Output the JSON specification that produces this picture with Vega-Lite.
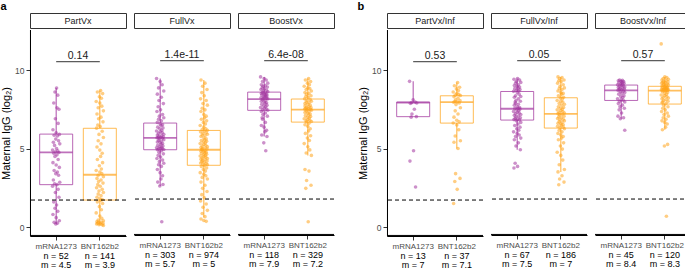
{
"$schema":"https://vega.github.io/schema/vega-lite/v6.json",
"padding":{"left":0,"top":0,"right":0,"bottom":0},
"spacing":22,
"config":{"font":"Liberation Sans","view":{"stroke":null},
"axis":{"grid":false,"domain":true,"domainColor":"black","domainWidth":1,"ticks":true,"tickColor":"#333","tickSize":4,"labelPadding":2,"labelColor":"#4d4d4d","labelFontSize":8,"zindex":2},
"axisX":{"labelAngle":0},
"axisY":{"labelFontSize":8.5,"titleFontSize":11,"titleFontWeight":"normal","titleColor":"#000","titlePadding":3},
"title":{"fontSize":11,"fontWeight":"bold","anchor":"start","frame":"bounds","offset":1,"color":"#000"}},
"datasets":{
"stats":[
{"p":"a1","g":"mRNA1273","lo":0.2,"q1":2.7,"md":4.76,"q3":5.92,"hi":8.85,"n":"n = 52","m":"m = 4.5","pv":"0.14"},
{"p":"a1","g":"BNT162b2","lo":0.15,"q1":1.72,"md":3.33,"q3":6.29,"hi":8.7,"n":"n = 141","m":"m = 3.9"},
{"p":"a2","g":"mRNA1273","lo":2.55,"q1":4.86,"md":5.62,"q3":6.56,"hi":9.4,"n":"n = 303","m":"m = 5.7","pv":"1.4e-11"},
{"p":"a2","g":"BNT162b2","lo":0.55,"q1":3.87,"md":4.86,"q3":6.09,"hi":9.3,"n":"n = 974","m":"m = 5"},
{"p":"a3","g":"mRNA1273","lo":5.7,"q1":7.37,"md":8.09,"q3":8.53,"hi":9.5,"n":"n = 118","m":"m = 7.9","pv":"6.4e-08"},
{"p":"a3","g":"BNT162b2","lo":4.5,"q1":6.62,"md":7.41,"q3":8.09,"hi":9.4,"n":"n = 329","m":"m = 7.2"},
{"p":"b1","g":"mRNA1273","lo":7.03,"q1":7.03,"md":7.92,"q3":7.96,"hi":9.28,"n":"n = 13","m":"m = 7","pv":"0.53"},
{"p":"b1","g":"BNT162b2","lo":5.0,"q1":6.62,"md":7.96,"q3":8.36,"hi":9.2,"n":"n = 37","m":"m = 7.1"},
{"p":"b2","g":"mRNA1273","lo":4.86,"q1":6.75,"md":7.47,"q3":8.57,"hi":9.4,"n":"n = 67","m":"m = 7.5","pv":"0.05"},
{"p":"b2","g":"BNT162b2","lo":3.45,"q1":6.24,"md":7.15,"q3":8.17,"hi":9.5,"n":"n = 186","m":"m = 7"},
{"p":"b3","g":"mRNA1273","lo":6.83,"q1":8.0,"md":8.64,"q3":8.98,"hi":9.3,"n":"n = 45","m":"m = 8.4","pv":"0.57"},
{"p":"b3","g":"BNT162b2","lo":6.13,"q1":7.77,"md":8.62,"q3":8.9,"hi":9.5,"n":"n = 120","m":"m = 8.3"}
],
"a1m":[{"v":8.85,"j":1},{"v":8.6,"j":-3},{"v":8.4,"j":4},{"v":7.9,"j":-6},{"v":7.6,"j":2},{"v":7.5,"j":7},{"v":6.9,"j":-2},{"v":6.6,"j":5},{"v":6.2,"j":-8},{"v":6.0,"j":0},{"v":5.9,"j":8},{"v":5.85,"j":-5},{"v":5.8,"j":3},{"v":5.6,"j":-1},{"v":5.5,"j":6},{"v":5.4,"j":-7},{"v":5.3,"j":9},{"v":5.2,"j":-4},{"v":5.0,"j":1},{"v":4.9,"j":-9},{"v":4.85,"j":4},{"v":4.8,"j":-2},{"v":4.75,"j":7},{"v":4.7,"j":-6},{"v":4.6,"j":2},{"v":4.5,"j":-3},{"v":4.3,"j":5},{"v":4.1,"j":-8},{"v":3.95,"j":0},{"v":3.8,"j":8},{"v":3.6,"j":-5},{"v":3.5,"j":3},{"v":3.4,"j":-1},{"v":3.3,"j":6},{"v":3.0,"j":-7},{"v":2.85,"j":9},{"v":2.75,"j":-4},{"v":2.7,"j":2},{"v":2.6,"j":-9},{"v":2.4,"j":5},{"v":2.2,"j":-2},{"v":1.9,"j":7},{"v":1.6,"j":-6},{"v":1.4,"j":1},{"v":1.2,"j":-3},{"v":1.0,"j":4},{"v":0.8,"j":-8},{"v":0.6,"j":0},{"v":0.4,"j":8},{"v":0.3,"j":-5},{"v":0.25,"j":3},{"v":0.2,"j":-1}],
"a1b":[{"v":8.7,"j":2},{"v":8.6,"j":-6},{"v":8.5,"j":7},{"v":8.3,"j":-1},{"v":8.2,"j":4},{"v":8.0,"j":-9},{"v":7.9,"j":0},{"v":7.7,"j":5},{"v":7.6,"j":-4},{"v":7.4,"j":9},{"v":7.2,"j":-7},{"v":7.0,"j":3},{"v":6.9,"j":-3},{"v":6.7,"j":8},{"v":6.5,"j":-5},{"v":6.4,"j":1},{"v":6.3,"j":-8},{"v":6.1,"j":6},{"v":5.9,"j":-2},{"v":5.7,"j":9},{"v":5.5,"j":-4},{"v":5.3,"j":3},{"v":5.1,"j":-7},{"v":4.9,"j":0},{"v":4.7,"j":6},{"v":4.5,"j":2},{"v":4.3,"j":-6},{"v":4.1,"j":7},{"v":3.9,"j":-1},{"v":3.7,"j":4},{"v":3.6,"j":-9},{"v":3.5,"j":0},{"v":3.4,"j":5},{"v":3.3,"j":-4},{"v":3.2,"j":9},{"v":3.1,"j":-7},{"v":3.0,"j":3},{"v":2.9,"j":-3},{"v":2.8,"j":8},{"v":2.7,"j":-5},{"v":2.6,"j":1},{"v":2.5,"j":-8},{"v":2.4,"j":6},{"v":2.3,"j":-2},{"v":2.2,"j":9},{"v":2.1,"j":-4},{"v":2.0,"j":3},{"v":1.9,"j":-7},{"v":1.8,"j":0},{"v":1.75,"j":6},{"v":1.7,"j":2},{"v":1.6,"j":-6},{"v":1.5,"j":7},{"v":1.3,"j":-1},{"v":1.1,"j":4},{"v":0.9,"j":-9},{"v":0.7,"j":0},{"v":0.55,"j":5},{"v":0.45,"j":-4},{"v":0.4,"j":9},{"v":0.35,"j":-7},{"v":0.3,"j":3},{"v":0.3,"j":-3},{"v":0.25,"j":8},{"v":0.25,"j":-5},{"v":0.2,"j":1},{"v":0.2,"j":-8},{"v":0.15,"j":6},{"v":0.15,"j":-2},{"v":0.1,"j":9}],
"a2m":[{"v":9.4,"j":-9},{"v":9.2,"j":0},{"v":9.0,"j":5},{"v":8.8,"j":-4},{"v":8.6,"j":9},{"v":8.4,"j":-7},{"v":8.2,"j":3},{"v":8.0,"j":-3},{"v":7.8,"j":8},{"v":7.6,"j":-5},{"v":7.4,"j":1},{"v":7.3,"j":-8},{"v":7.1,"j":6},{"v":7.0,"j":-2},{"v":6.9,"j":9},{"v":6.8,"j":-4},{"v":6.7,"j":3},{"v":6.6,"j":-7},{"v":6.5,"j":0},{"v":6.45,"j":6},{"v":6.4,"j":2},{"v":6.3,"j":-6},{"v":6.25,"j":7},{"v":6.2,"j":-1},{"v":6.1,"j":4},{"v":6.05,"j":-9},{"v":6.0,"j":0},{"v":5.95,"j":5},{"v":5.9,"j":-4},{"v":5.85,"j":9},{"v":5.8,"j":-7},{"v":5.75,"j":3},{"v":5.7,"j":-3},{"v":5.68,"j":8},{"v":5.66,"j":-5},{"v":5.64,"j":1},{"v":5.62,"j":-8},{"v":5.6,"j":6},{"v":5.55,"j":-2},{"v":5.5,"j":9},{"v":5.45,"j":-4},{"v":5.4,"j":3},{"v":5.35,"j":-7},{"v":5.3,"j":0},{"v":5.25,"j":6},{"v":5.2,"j":2},{"v":5.15,"j":-6},{"v":5.1,"j":7},{"v":5.05,"j":-1},{"v":5.0,"j":4},{"v":4.98,"j":-9},{"v":4.95,"j":0},{"v":4.92,"j":5},{"v":4.9,"j":-4},{"v":4.88,"j":9},{"v":4.86,"j":-7},{"v":4.8,"j":3},{"v":4.7,"j":-3},{"v":4.6,"j":8},{"v":4.5,"j":-5},{"v":4.4,"j":1},{"v":4.3,"j":-8},{"v":4.2,"j":6},{"v":4.1,"j":-2},{"v":4.0,"j":9},{"v":3.9,"j":-4},{"v":3.8,"j":3},{"v":3.6,"j":-7},{"v":3.4,"j":0},{"v":3.2,"j":6},{"v":3.0,"j":2},{"v":2.8,"j":-6},{"v":2.65,"j":7},{"v":2.55,"j":-1},{"v":0.27,"j":4}],
"a2b":[{"v":9.3,"j":-7},{"v":9.1,"j":3},{"v":8.9,"j":-3},{"v":8.7,"j":8},{"v":8.5,"j":-5},{"v":8.3,"j":1},{"v":8.1,"j":-8},{"v":8.0,"j":6},{"v":7.8,"j":-2},{"v":7.7,"j":9},{"v":7.5,"j":-4},{"v":7.4,"j":3},{"v":7.3,"j":-7},{"v":7.1,"j":0},{"v":7.0,"j":6},{"v":6.9,"j":2},{"v":6.8,"j":-6},{"v":6.7,"j":7},{"v":6.6,"j":-1},{"v":6.5,"j":4},{"v":6.4,"j":-9},{"v":6.3,"j":0},{"v":6.2,"j":5},{"v":6.15,"j":-4},{"v":6.1,"j":9},{"v":6.05,"j":1},{"v":6.0,"j":-8},{"v":5.95,"j":6},{"v":5.9,"j":-2},{"v":5.85,"j":9},{"v":5.8,"j":-4},{"v":5.75,"j":3},{"v":5.7,"j":-7},{"v":5.6,"j":0},{"v":5.55,"j":6},{"v":5.5,"j":2},{"v":5.45,"j":-6},{"v":5.4,"j":7},{"v":5.35,"j":-1},{"v":5.3,"j":4},{"v":5.25,"j":-9},{"v":5.2,"j":0},{"v":5.15,"j":5},{"v":5.1,"j":-4},{"v":5.05,"j":9},{"v":5.0,"j":-7},{"v":4.97,"j":3},{"v":4.94,"j":-3},{"v":4.9,"j":8},{"v":4.87,"j":-5},{"v":4.84,"j":-4},{"v":4.8,"j":3},{"v":4.77,"j":-7},{"v":4.74,"j":0},{"v":4.7,"j":6},{"v":4.66,"j":2},{"v":4.62,"j":-6},{"v":4.58,"j":7},{"v":4.54,"j":-1},{"v":4.5,"j":4},{"v":4.46,"j":-9},{"v":4.42,"j":0},{"v":4.38,"j":5},{"v":4.34,"j":-4},{"v":4.3,"j":9},{"v":4.26,"j":-7},{"v":4.22,"j":3},{"v":4.18,"j":-3},{"v":4.14,"j":8},{"v":4.1,"j":-5},{"v":4.06,"j":1},{"v":4.02,"j":-8},{"v":3.98,"j":6},{"v":3.94,"j":-2},{"v":3.9,"j":9},{"v":3.85,"j":2},{"v":3.8,"j":-6},{"v":3.7,"j":7},{"v":3.6,"j":-1},{"v":3.5,"j":4},{"v":3.4,"j":-9},{"v":3.3,"j":0},{"v":3.2,"j":5},{"v":3.1,"j":-4},{"v":3.0,"j":9},{"v":2.8,"j":-7},{"v":2.6,"j":3},{"v":2.4,"j":-3},{"v":2.2,"j":8},{"v":2.0,"j":-5},{"v":1.8,"j":1},{"v":1.6,"j":-8},{"v":1.4,"j":6},{"v":1.2,"j":-2},{"v":1.0,"j":9},{"v":0.8,"j":-4},{"v":0.6,"j":3},{"v":0.45,"j":-7},{"v":0.35,"j":0},{"v":0.3,"j":6}],
"a3m":[{"v":9.5,"j":-9},{"v":9.4,"j":0},{"v":9.3,"j":5},{"v":9.2,"j":-4},{"v":9.1,"j":9},{"v":9.0,"j":-7},{"v":8.95,"j":3},{"v":8.9,"j":-3},{"v":8.85,"j":8},{"v":8.8,"j":-5},{"v":8.75,"j":1},{"v":8.7,"j":-8},{"v":8.65,"j":6},{"v":8.6,"j":-2},{"v":8.55,"j":9},{"v":8.5,"j":-4},{"v":8.47,"j":3},{"v":8.45,"j":-7},{"v":8.42,"j":0},{"v":8.4,"j":6},{"v":8.37,"j":2},{"v":8.35,"j":-6},{"v":8.3,"j":7},{"v":8.27,"j":-1},{"v":8.25,"j":4},{"v":8.2,"j":1},{"v":8.17,"j":-8},{"v":8.15,"j":6},{"v":8.12,"j":-2},{"v":8.1,"j":9},{"v":8.05,"j":-4},{"v":8.0,"j":3},{"v":7.95,"j":-7},{"v":7.9,"j":0},{"v":7.85,"j":6},{"v":7.8,"j":2},{"v":7.75,"j":-6},{"v":7.7,"j":7},{"v":7.65,"j":-1},{"v":7.6,"j":4},{"v":7.55,"j":-9},{"v":7.5,"j":0},{"v":7.45,"j":5},{"v":7.4,"j":-4},{"v":7.38,"j":9},{"v":7.3,"j":-7},{"v":7.2,"j":3},{"v":7.1,"j":-3},{"v":7.0,"j":8},{"v":6.9,"j":-5},{"v":6.8,"j":-4},{"v":6.6,"j":3},{"v":6.4,"j":-7},{"v":6.3,"j":0},{"v":6.1,"j":6},{"v":6.0,"j":2},{"v":5.8,"j":-6},{"v":5.7,"j":7},{"v":5.3,"j":-1},{"v":4.8,"j":4}],
"a3b":[{"v":9.4,"j":2},{"v":9.3,"j":-6},{"v":9.2,"j":7},{"v":9.1,"j":-1},{"v":9.0,"j":4},{"v":8.9,"j":-9},{"v":8.8,"j":0},{"v":8.75,"j":5},{"v":8.7,"j":-4},{"v":8.6,"j":9},{"v":8.5,"j":-7},{"v":8.45,"j":3},{"v":8.4,"j":-3},{"v":8.3,"j":8},{"v":8.25,"j":-5},{"v":8.2,"j":1},{"v":8.1,"j":-8},{"v":8.05,"j":6},{"v":8.0,"j":-2},{"v":7.95,"j":9},{"v":7.9,"j":-4},{"v":7.85,"j":3},{"v":7.8,"j":-7},{"v":7.75,"j":0},{"v":7.7,"j":6},{"v":7.65,"j":-7},{"v":7.6,"j":3},{"v":7.57,"j":-3},{"v":7.54,"j":8},{"v":7.5,"j":-5},{"v":7.47,"j":1},{"v":7.45,"j":-8},{"v":7.43,"j":6},{"v":7.41,"j":-2},{"v":7.38,"j":9},{"v":7.33,"j":-4},{"v":7.28,"j":3},{"v":7.23,"j":-7},{"v":7.18,"j":0},{"v":7.13,"j":6},{"v":7.08,"j":2},{"v":7.03,"j":-6},{"v":6.98,"j":7},{"v":6.93,"j":-1},{"v":6.88,"j":4},{"v":6.83,"j":-9},{"v":6.78,"j":0},{"v":6.74,"j":5},{"v":6.7,"j":-4},{"v":6.66,"j":9},{"v":6.63,"j":-4},{"v":6.55,"j":3},{"v":6.45,"j":-7},{"v":6.35,"j":0},{"v":6.2,"j":6},{"v":6.05,"j":2},{"v":5.9,"j":-6},{"v":5.75,"j":7},{"v":5.6,"j":-1},{"v":5.45,"j":4},{"v":5.25,"j":-9},{"v":5.05,"j":0},{"v":4.85,"j":5},{"v":4.65,"j":-4},{"v":4.5,"j":9},{"v":3.6,"j":-7},{"v":3.5,"j":3},{"v":2.9,"j":-3},{"v":2.6,"j":8},{"v":2.4,"j":-5},{"v":0.27,"j":1}],
"b1m":[{"v":9.28,"j":-9},{"v":8.1,"j":0},{"v":7.96,"j":5},{"v":7.92,"j":-4},{"v":7.9,"j":9},{"v":7.88,"j":-7},{"v":7.5,"j":3},{"v":7.2,"j":-3},{"v":7.03,"j":8},{"v":7.0,"j":-5},{"v":4.86,"j":1},{"v":4.2,"j":-8},{"v":2.55,"j":6}],
"b1b":[{"v":9.2,"j":2},{"v":9.0,"j":-6},{"v":8.9,"j":7},{"v":8.8,"j":-1},{"v":8.7,"j":4},{"v":8.6,"j":-9},{"v":8.5,"j":0},{"v":8.45,"j":5},{"v":8.4,"j":-4},{"v":8.38,"j":9},{"v":8.3,"j":-7},{"v":8.2,"j":3},{"v":8.1,"j":-3},{"v":8.05,"j":8},{"v":8.0,"j":-5},{"v":7.97,"j":1},{"v":7.95,"j":-8},{"v":7.9,"j":6},{"v":7.8,"j":-2},{"v":7.6,"j":9},{"v":7.4,"j":-4},{"v":7.2,"j":3},{"v":7.0,"j":-7},{"v":6.8,"j":0},{"v":6.7,"j":6},{"v":6.63,"j":-9},{"v":6.5,"j":0},{"v":6.2,"j":5},{"v":5.8,"j":-4},{"v":5.5,"j":9},{"v":5.4,"j":-7},{"v":5.0,"j":3},{"v":3.4,"j":-3},{"v":3.1,"j":8},{"v":2.9,"j":-5},{"v":2.4,"j":1},{"v":1.5,"j":-8}],
"b2m":[{"v":9.4,"j":1},{"v":9.35,"j":-8},{"v":9.3,"j":6},{"v":9.2,"j":-2},{"v":9.15,"j":9},{"v":9.1,"j":-4},{"v":9.0,"j":3},{"v":8.95,"j":-7},{"v":8.9,"j":0},{"v":8.85,"j":6},{"v":8.8,"j":2},{"v":8.75,"j":-6},{"v":8.7,"j":7},{"v":8.65,"j":-1},{"v":8.6,"j":4},{"v":8.58,"j":-9},{"v":8.5,"j":0},{"v":8.4,"j":5},{"v":8.3,"j":-4},{"v":8.25,"j":9},{"v":8.2,"j":-7},{"v":8.1,"j":3},{"v":8.0,"j":-3},{"v":7.95,"j":8},{"v":7.9,"j":-5},{"v":7.8,"j":-4},{"v":7.75,"j":3},{"v":7.7,"j":-7},{"v":7.6,"j":0},{"v":7.55,"j":6},{"v":7.5,"j":2},{"v":7.48,"j":-6},{"v":7.45,"j":7},{"v":7.4,"j":-1},{"v":7.35,"j":4},{"v":7.3,"j":-9},{"v":7.25,"j":0},{"v":7.2,"j":5},{"v":7.15,"j":-4},{"v":7.1,"j":9},{"v":7.05,"j":-7},{"v":7.0,"j":3},{"v":6.95,"j":-3},{"v":6.9,"j":8},{"v":6.85,"j":-5},{"v":6.8,"j":1},{"v":6.78,"j":-8},{"v":6.76,"j":6},{"v":6.7,"j":-2},{"v":6.6,"j":9},{"v":6.5,"j":2},{"v":6.4,"j":-6},{"v":6.3,"j":7},{"v":6.2,"j":-1},{"v":6.1,"j":4},{"v":6.0,"j":-9},{"v":5.9,"j":0},{"v":5.8,"j":5},{"v":5.7,"j":-4},{"v":5.6,"j":9},{"v":5.5,"j":-7},{"v":5.3,"j":3},{"v":5.1,"j":-3},{"v":4.86,"j":8},{"v":4.0,"j":-5},{"v":3.8,"j":1},{"v":3.7,"j":-8}],
"b2b":[{"v":9.5,"j":-7},{"v":9.45,"j":3},{"v":9.4,"j":-3},{"v":9.3,"j":8},{"v":9.25,"j":-5},{"v":9.2,"j":1},{"v":9.1,"j":-8},{"v":9.0,"j":6},{"v":8.9,"j":-2},{"v":8.8,"j":9},{"v":8.75,"j":-4},{"v":8.7,"j":3},{"v":8.6,"j":-7},{"v":8.5,"j":0},{"v":8.45,"j":6},{"v":8.4,"j":2},{"v":8.3,"j":-6},{"v":8.2,"j":7},{"v":8.15,"j":-1},{"v":8.1,"j":4},{"v":8.0,"j":-9},{"v":7.95,"j":0},{"v":7.9,"j":5},{"v":7.8,"j":-4},{"v":7.75,"j":9},{"v":7.7,"j":2},{"v":7.6,"j":-6},{"v":7.55,"j":7},{"v":7.5,"j":-1},{"v":7.45,"j":4},{"v":7.4,"j":-9},{"v":7.35,"j":0},{"v":7.3,"j":5},{"v":7.25,"j":-4},{"v":7.2,"j":9},{"v":7.16,"j":-7},{"v":7.12,"j":3},{"v":7.08,"j":-3},{"v":7.0,"j":8},{"v":6.95,"j":-5},{"v":6.9,"j":1},{"v":6.85,"j":-8},{"v":6.8,"j":6},{"v":6.75,"j":-2},{"v":6.7,"j":9},{"v":6.65,"j":-4},{"v":6.6,"j":3},{"v":6.55,"j":-7},{"v":6.5,"j":0},{"v":6.45,"j":6},{"v":6.4,"j":1},{"v":6.35,"j":-8},{"v":6.3,"j":6},{"v":6.25,"j":-2},{"v":6.2,"j":9},{"v":6.1,"j":-4},{"v":6.0,"j":3},{"v":5.9,"j":-7},{"v":5.8,"j":0},{"v":5.7,"j":6},{"v":5.6,"j":2},{"v":5.5,"j":-6},{"v":5.3,"j":7},{"v":5.1,"j":-1},{"v":4.9,"j":4},{"v":4.7,"j":-9},{"v":4.5,"j":0},{"v":4.2,"j":5},{"v":3.9,"j":-4},{"v":3.6,"j":9},{"v":3.45,"j":-7},{"v":3.2,"j":3},{"v":3.0,"j":-3},{"v":2.8,"j":8},{"v":2.63,"j":-5}],
"b3m":[{"v":9.3,"j":-4},{"v":9.28,"j":3},{"v":9.25,"j":-7},{"v":9.22,"j":0},{"v":9.2,"j":6},{"v":9.15,"j":2},{"v":9.12,"j":-6},{"v":9.1,"j":7},{"v":9.05,"j":-1},{"v":9.02,"j":4},{"v":9.0,"j":-9},{"v":8.95,"j":0},{"v":8.92,"j":5},{"v":8.9,"j":-4},{"v":8.85,"j":9},{"v":8.82,"j":-7},{"v":8.8,"j":3},{"v":8.75,"j":-3},{"v":8.72,"j":8},{"v":8.7,"j":-5},{"v":8.68,"j":1},{"v":8.65,"j":-8},{"v":8.6,"j":6},{"v":8.55,"j":-2},{"v":8.5,"j":9},{"v":8.45,"j":2},{"v":8.4,"j":-6},{"v":8.3,"j":7},{"v":8.25,"j":-1},{"v":8.2,"j":4},{"v":8.1,"j":-9},{"v":8.05,"j":0},{"v":8.02,"j":5},{"v":7.95,"j":-4},{"v":7.9,"j":9},{"v":7.8,"j":-7},{"v":7.7,"j":3},{"v":7.6,"j":-3},{"v":7.5,"j":8},{"v":7.4,"j":-5},{"v":7.2,"j":1},{"v":7.0,"j":-8},{"v":6.9,"j":6},{"v":6.83,"j":-2},{"v":6.1,"j":9}],
"b3b":[{"v":11.6,"j":-9},{"v":9.5,"j":0},{"v":9.45,"j":5},{"v":9.4,"j":-4},{"v":9.35,"j":9},{"v":9.3,"j":-7},{"v":9.25,"j":3},{"v":9.2,"j":-3},{"v":9.18,"j":8},{"v":9.15,"j":-5},{"v":9.12,"j":1},{"v":9.1,"j":-8},{"v":9.05,"j":6},{"v":9.02,"j":-2},{"v":9.0,"j":9},{"v":8.97,"j":-4},{"v":8.95,"j":3},{"v":8.92,"j":-7},{"v":8.88,"j":0},{"v":8.86,"j":6},{"v":8.84,"j":2},{"v":8.82,"j":-6},{"v":8.8,"j":7},{"v":8.78,"j":-1},{"v":8.76,"j":4},{"v":8.74,"j":1},{"v":8.72,"j":-8},{"v":8.7,"j":6},{"v":8.69,"j":-2},{"v":8.68,"j":9},{"v":8.67,"j":-4},{"v":8.66,"j":3},{"v":8.65,"j":-7},{"v":8.64,"j":0},{"v":8.63,"j":6},{"v":8.6,"j":2},{"v":8.55,"j":-6},{"v":8.5,"j":7},{"v":8.45,"j":-1},{"v":8.4,"j":4},{"v":8.35,"j":-9},{"v":8.3,"j":0},{"v":8.25,"j":5},{"v":8.2,"j":-4},{"v":8.15,"j":9},{"v":8.1,"j":-7},{"v":8.05,"j":3},{"v":8.0,"j":-3},{"v":7.95,"j":8},{"v":7.9,"j":-5},{"v":7.85,"j":-7},{"v":7.8,"j":3},{"v":7.7,"j":-3},{"v":7.6,"j":8},{"v":7.5,"j":-5},{"v":7.4,"j":1},{"v":7.3,"j":-8},{"v":7.2,"j":6},{"v":7.1,"j":-2},{"v":7.0,"j":9},{"v":6.9,"j":-4},{"v":6.8,"j":3},{"v":6.7,"j":-7},{"v":6.6,"j":0},{"v":6.5,"j":6},{"v":6.3,"j":2},{"v":6.13,"j":-6},{"v":5.2,"j":7},{"v":5.1,"j":-1},{"v":0.62,"j":4}]
},
"hconcat":[
{"title":"a","spacing":6,"hconcat":[
{"spacing":0,"vconcat":[
{"width":96,"height":15,"view":{"stroke":"#333","strokeWidth":1},"data":{"values":[{"f":"PartVx"}]},"mark":{"type":"text","fontSize":9,"color":"#1a1a1a"},"encoding":{"text":{"field":"f","type":"nominal"}}},
{"width":96,"height":206,"resolve":{"scale":{"x":"independent"}},"layer":[
{"layer":[
{"data":{"name":"stats"},"transform":[{"filter":"datum.p=='a1'"}],"mark":{"type":"bar","filled":false,"strokeWidth":1,"strokeOpacity":0.75,"size":33},"encoding":{"x":{"field":"g","type":"nominal","scale":{"domain":["mRNA1273","BNT162b2"],"paddingInner":0,"paddingOuter":0.1},"title":null},"y":{"field":"q1","type":"quantitative","scale":{"domain":[-0.57,12.55],"nice":false,"zero":false},"axis":{"values":[0,5,10]},"title":"Maternal IgG (log₂)"},"y2":{"field":"q3"},"color":{"field":"g","type":"nominal","scale":{"domain":["mRNA1273","BNT162b2"],"range":["#A2359E","#FFA41B"]},"legend":null}}},
{"data":{"name":"stats"},"transform":[{"filter":"datum.p=='a1'"}],"mark":{"type":"rule","strokeWidth":1.1,"strokeOpacity":0.8},"encoding":{"x":{"field":"g","type":"nominal","title":null},"y":{"field":"lo","type":"quantitative","axis":{"values":[0,5,10]},"title":"Maternal IgG (log₂)"},"y2":{"field":"q1"},"color":{"field":"g","type":"nominal","legend":null}}},
{"data":{"name":"stats"},"transform":[{"filter":"datum.p=='a1'"}],"mark":{"type":"rule","strokeWidth":1.1,"strokeOpacity":0.8},"encoding":{"x":{"field":"g","type":"nominal","title":null},"y":{"field":"q3","type":"quantitative","axis":{"values":[0,5,10]},"title":"Maternal IgG (log₂)"},"y2":{"field":"hi"},"color":{"field":"g","type":"nominal","legend":null}}},
{"data":{"name":"a1m"},"mark":{"type":"circle","size":13,"opacity":0.55},"encoding":{"x":{"datum":"mRNA1273","type":"nominal","title":null},"xOffset":{"field":"j","type":"quantitative","scale":{"domain":[-10,10],"range":[17.8,25.8]}},"y":{"field":"v","type":"quantitative","axis":{"values":[0,5,10]},"title":"Maternal IgG (log₂)"},"color":{"datum":"mRNA1273","type":"nominal","legend":null}}},
{"data":{"name":"a1b"},"mark":{"type":"circle","size":13,"opacity":0.55},"encoding":{"x":{"datum":"BNT162b2","type":"nominal","title":null},"xOffset":{"field":"j","type":"quantitative"},"y":{"field":"v","type":"quantitative","axis":{"values":[0,5,10]},"title":"Maternal IgG (log₂)"},"color":{"datum":"BNT162b2","type":"nominal","legend":null}}},
{"data":{"name":"stats"},"transform":[{"filter":"datum.p=='a1'"}],"mark":{"type":"tick","thickness":1.8,"size":33},"encoding":{"x":{"field":"g","type":"nominal","title":null},"y":{"field":"md","type":"quantitative","axis":{"values":[0,5,10]},"title":"Maternal IgG (log₂)"},"color":{"field":"g","type":"nominal","legend":null}}},
{"data":{"name":"stats"},"transform":[{"filter":"datum.p=='a1' && datum.g=='mRNA1273'"}],"mark":{"type":"rule","strokeDash":[4,3],"color":"#000","strokeWidth":1},"encoding":{"y":{"datum":1.72,"type":"quantitative","axis":{"values":[0,5,10]},"title":"Maternal IgG (log₂)"}}},
{"data":{"name":"stats"},"transform":[{"filter":"datum.p=='a1' && datum.g=='mRNA1273'"}],"mark":{"type":"rule","color":"#000","strokeWidth":1},"encoding":{"y":{"datum":-0.535,"type":"quantitative","axis":{"values":[0,5,10]},"title":"Maternal IgG (log₂)"}}},
{"data":{"name":"stats"},"transform":[{"filter":"datum.p=='a1' && datum.g=='mRNA1273'"}],"mark":{"type":"rule","color":"#333","strokeWidth":1},"encoding":{"x":{"datum":"mRNA1273","type":"nominal","title":null},"x2":{"datum":"BNT162b2"},"y":{"datum":10.53,"type":"quantitative","axis":{"values":[0,5,10]},"title":"Maternal IgG (log₂)"}}},
{"data":{"name":"stats"},"transform":[{"filter":"datum.p=='a1' && datum.g=='mRNA1273'"}],"mark":{"type":"text","fontSize":10.5,"color":"#1a1a1a","baseline":"alphabetic"},"encoding":{"y":{"datum":10.7,"type":"quantitative","axis":{"values":[0,5,10]},"title":"Maternal IgG (log₂)"},"text":{"field":"pv"}}},
{"data":{"name":"stats"},"transform":[{"filter":"datum.p=='a1'"}],"mark":{"type":"text","fontSize":9,"color":"#000","baseline":"middle"},"encoding":{"x":{"field":"g","type":"nominal","title":null},"y":{"datum":-1.84,"type":"quantitative","axis":{"values":[0,5,10]},"title":"Maternal IgG (log₂)"},"text":{"field":"n"}}},
{"data":{"name":"stats"},"transform":[{"filter":"datum.p=='a1'"}],"mark":{"type":"text","fontSize":9,"color":"#000","baseline":"middle"},"encoding":{"x":{"field":"g","type":"nominal","title":null},"y":{"datum":-2.42,"type":"quantitative","axis":{"values":[0,5,10]},"title":"Maternal IgG (log₂)"},"text":{"field":"m"}}}
]},
{"data":{"name":"stats"},"transform":[{"filter":"datum.p=='a1' && datum.g=='mRNA1273'"}],"mark":{"type":"rule","color":"#000","strokeWidth":1},"encoding":{"x":{"datum":0.005,"type":"quantitative","scale":{"domain":[0,1],"nice":false,"zero":false},"axis":null},"y":{"datum":-0.57,"type":"quantitative","axis":{"values":[0,5,10]},"title":"Maternal IgG (log₂)"},"y2":{"datum":12.55}}}
]}]},
{"spacing":0,"vconcat":[
{"width":96,"height":15,"view":{"stroke":"#333","strokeWidth":1},"data":{"values":[{"f":"FullVx"}]},"mark":{"type":"text","fontSize":9,"color":"#1a1a1a"},"encoding":{"text":{"field":"f","type":"nominal"}}},
{"width":96,"height":206,"layer":[
{"data":{"name":"stats"},"transform":[{"filter":"datum.p=='a2'"}],"mark":{"type":"bar","filled":false,"strokeWidth":1,"strokeOpacity":0.75,"size":33},"encoding":{"x":{"field":"g","type":"nominal","scale":{"domain":["mRNA1273","BNT162b2"],"paddingInner":0,"paddingOuter":0.1},"title":null},"y":{"field":"q1","type":"quantitative","scale":{"domain":[-0.57,12.55],"nice":false,"zero":false},"axis":null},"y2":{"field":"q3"},"color":{"field":"g","type":"nominal","legend":null}}},
{"data":{"name":"stats"},"transform":[{"filter":"datum.p=='a2'"}],"mark":{"type":"rule","strokeWidth":1.1,"strokeOpacity":0.8},"encoding":{"x":{"field":"g","type":"nominal","title":null},"y":{"field":"lo","type":"quantitative","axis":null},"y2":{"field":"q1"},"color":{"field":"g","type":"nominal","legend":null}}},
{"data":{"name":"stats"},"transform":[{"filter":"datum.p=='a2'"}],"mark":{"type":"rule","strokeWidth":1.1,"strokeOpacity":0.8},"encoding":{"x":{"field":"g","type":"nominal","title":null},"y":{"field":"q3","type":"quantitative","axis":null},"y2":{"field":"hi"},"color":{"field":"g","type":"nominal","legend":null}}},
{"data":{"name":"a2m"},"mark":{"type":"circle","size":13,"opacity":0.55},"encoding":{"x":{"datum":"mRNA1273","type":"nominal","title":null},"xOffset":{"field":"j","type":"quantitative","scale":{"domain":[-10,10],"range":[17.8,25.8]}},"y":{"field":"v","type":"quantitative","axis":null},"color":{"datum":"mRNA1273","type":"nominal","legend":null}}},
{"data":{"name":"a2b"},"mark":{"type":"circle","size":13,"opacity":0.55},"encoding":{"x":{"datum":"BNT162b2","type":"nominal","title":null},"xOffset":{"field":"j","type":"quantitative"},"y":{"field":"v","type":"quantitative","axis":null},"color":{"datum":"BNT162b2","type":"nominal","legend":null}}},
{"data":{"name":"stats"},"transform":[{"filter":"datum.p=='a2'"}],"mark":{"type":"tick","thickness":1.8,"size":33},"encoding":{"x":{"field":"g","type":"nominal","title":null},"y":{"field":"md","type":"quantitative","axis":null},"color":{"field":"g","type":"nominal","legend":null}}},
{"data":{"name":"stats"},"transform":[{"filter":"datum.p=='a2' && datum.g=='mRNA1273'"}],"mark":{"type":"rule","strokeDash":[4,3],"color":"#000","strokeWidth":1},"encoding":{"y":{"datum":1.72,"type":"quantitative","axis":null}}},
{"data":{"name":"stats"},"transform":[{"filter":"datum.p=='a2' && datum.g=='mRNA1273'"}],"mark":{"type":"rule","color":"#000","strokeWidth":1},"encoding":{"y":{"datum":-0.535,"type":"quantitative","axis":null}}},
{"data":{"name":"stats"},"transform":[{"filter":"datum.p=='a2' && datum.g=='mRNA1273'"}],"mark":{"type":"rule","color":"#333","strokeWidth":1},"encoding":{"x":{"datum":"mRNA1273","type":"nominal","title":null},"x2":{"datum":"BNT162b2"},"y":{"datum":10.53,"type":"quantitative","axis":null}}},
{"data":{"name":"stats"},"transform":[{"filter":"datum.p=='a2' && datum.g=='mRNA1273'"}],"mark":{"type":"text","fontSize":10.5,"color":"#1a1a1a","baseline":"alphabetic"},"encoding":{"y":{"datum":10.7,"type":"quantitative","axis":null},"text":{"field":"pv"}}},
{"data":{"name":"stats"},"transform":[{"filter":"datum.p=='a2'"}],"mark":{"type":"text","fontSize":9,"color":"#000","baseline":"middle"},"encoding":{"x":{"field":"g","type":"nominal","title":null},"y":{"datum":-1.84,"type":"quantitative","axis":null},"text":{"field":"n"}}},
{"data":{"name":"stats"},"transform":[{"filter":"datum.p=='a2'"}],"mark":{"type":"text","fontSize":9,"color":"#000","baseline":"middle"},"encoding":{"x":{"field":"g","type":"nominal","title":null},"y":{"datum":-2.42,"type":"quantitative","axis":null},"text":{"field":"m"}}}
]}]},
{"spacing":0,"vconcat":[
{"width":96,"height":15,"view":{"stroke":"#333","strokeWidth":1},"data":{"values":[{"f":"BoostVx"}]},"mark":{"type":"text","fontSize":9,"color":"#1a1a1a"},"encoding":{"text":{"field":"f","type":"nominal"}}},
{"width":96,"height":206,"layer":[
{"data":{"name":"stats"},"transform":[{"filter":"datum.p=='a3'"}],"mark":{"type":"bar","filled":false,"strokeWidth":1,"strokeOpacity":0.75,"size":33},"encoding":{"x":{"field":"g","type":"nominal","scale":{"domain":["mRNA1273","BNT162b2"],"paddingInner":0,"paddingOuter":0.1},"title":null},"y":{"field":"q1","type":"quantitative","scale":{"domain":[-0.57,12.55],"nice":false,"zero":false},"axis":null},"y2":{"field":"q3"},"color":{"field":"g","type":"nominal","legend":null}}},
{"data":{"name":"stats"},"transform":[{"filter":"datum.p=='a3'"}],"mark":{"type":"rule","strokeWidth":1.1,"strokeOpacity":0.8},"encoding":{"x":{"field":"g","type":"nominal","title":null},"y":{"field":"lo","type":"quantitative","axis":null},"y2":{"field":"q1"},"color":{"field":"g","type":"nominal","legend":null}}},
{"data":{"name":"stats"},"transform":[{"filter":"datum.p=='a3'"}],"mark":{"type":"rule","strokeWidth":1.1,"strokeOpacity":0.8},"encoding":{"x":{"field":"g","type":"nominal","title":null},"y":{"field":"q3","type":"quantitative","axis":null},"y2":{"field":"hi"},"color":{"field":"g","type":"nominal","legend":null}}},
{"data":{"name":"a3m"},"mark":{"type":"circle","size":13,"opacity":0.55},"encoding":{"x":{"datum":"mRNA1273","type":"nominal","title":null},"xOffset":{"field":"j","type":"quantitative","scale":{"domain":[-10,10],"range":[17.8,25.8]}},"y":{"field":"v","type":"quantitative","axis":null},"color":{"datum":"mRNA1273","type":"nominal","legend":null}}},
{"data":{"name":"a3b"},"mark":{"type":"circle","size":13,"opacity":0.55},"encoding":{"x":{"datum":"BNT162b2","type":"nominal","title":null},"xOffset":{"field":"j","type":"quantitative"},"y":{"field":"v","type":"quantitative","axis":null},"color":{"datum":"BNT162b2","type":"nominal","legend":null}}},
{"data":{"name":"stats"},"transform":[{"filter":"datum.p=='a3'"}],"mark":{"type":"tick","thickness":1.8,"size":33},"encoding":{"x":{"field":"g","type":"nominal","title":null},"y":{"field":"md","type":"quantitative","axis":null},"color":{"field":"g","type":"nominal","legend":null}}},
{"data":{"name":"stats"},"transform":[{"filter":"datum.p=='a3' && datum.g=='mRNA1273'"}],"mark":{"type":"rule","strokeDash":[4,3],"color":"#000","strokeWidth":1},"encoding":{"y":{"datum":1.72,"type":"quantitative","axis":null}}},
{"data":{"name":"stats"},"transform":[{"filter":"datum.p=='a3' && datum.g=='mRNA1273'"}],"mark":{"type":"rule","color":"#000","strokeWidth":1},"encoding":{"y":{"datum":-0.535,"type":"quantitative","axis":null}}},
{"data":{"name":"stats"},"transform":[{"filter":"datum.p=='a3' && datum.g=='mRNA1273'"}],"mark":{"type":"rule","color":"#333","strokeWidth":1},"encoding":{"x":{"datum":"mRNA1273","type":"nominal","title":null},"x2":{"datum":"BNT162b2"},"y":{"datum":10.53,"type":"quantitative","axis":null}}},
{"data":{"name":"stats"},"transform":[{"filter":"datum.p=='a3' && datum.g=='mRNA1273'"}],"mark":{"type":"text","fontSize":10.5,"color":"#1a1a1a","baseline":"alphabetic"},"encoding":{"y":{"datum":10.7,"type":"quantitative","axis":null},"text":{"field":"pv"}}},
{"data":{"name":"stats"},"transform":[{"filter":"datum.p=='a3'"}],"mark":{"type":"text","fontSize":9,"color":"#000","baseline":"middle"},"encoding":{"x":{"field":"g","type":"nominal","title":null},"y":{"datum":-1.84,"type":"quantitative","axis":null},"text":{"field":"n"}}},
{"data":{"name":"stats"},"transform":[{"filter":"datum.p=='a3'"}],"mark":{"type":"text","fontSize":9,"color":"#000","baseline":"middle"},"encoding":{"x":{"field":"g","type":"nominal","title":null},"y":{"datum":-2.42,"type":"quantitative","axis":null},"text":{"field":"m"}}}
]}]}
]},
{"title":"b","spacing":6,"hconcat":[
{"spacing":0,"vconcat":[
{"width":96,"height":15,"view":{"stroke":"#333","strokeWidth":1},"data":{"values":[{"f":"PartVx/Inf"}]},"mark":{"type":"text","fontSize":9,"color":"#1a1a1a"},"encoding":{"text":{"field":"f","type":"nominal"}}},
{"width":96,"height":206,"resolve":{"scale":{"x":"independent"}},"layer":[
{"layer":[
{"data":{"name":"stats"},"transform":[{"filter":"datum.p=='b1'"}],"mark":{"type":"bar","filled":false,"strokeWidth":1,"strokeOpacity":0.75,"size":33},"encoding":{"x":{"field":"g","type":"nominal","scale":{"domain":["mRNA1273","BNT162b2"],"paddingInner":0,"paddingOuter":0.1},"title":null},"y":{"field":"q1","type":"quantitative","scale":{"domain":[-0.57,12.55],"nice":false,"zero":false},"axis":{"values":[0,5,10]},"title":"Maternal IgG (log₂)"},"y2":{"field":"q3"},"color":{"field":"g","type":"nominal","legend":null}}},
{"data":{"name":"stats"},"transform":[{"filter":"datum.p=='b1'"}],"mark":{"type":"rule","strokeWidth":1.1,"strokeOpacity":0.8},"encoding":{"x":{"field":"g","type":"nominal","title":null},"y":{"field":"lo","type":"quantitative","axis":{"values":[0,5,10]},"title":"Maternal IgG (log₂)"},"y2":{"field":"q1"},"color":{"field":"g","type":"nominal","legend":null}}},
{"data":{"name":"stats"},"transform":[{"filter":"datum.p=='b1'"}],"mark":{"type":"rule","strokeWidth":1.1,"strokeOpacity":0.8},"encoding":{"x":{"field":"g","type":"nominal","title":null},"y":{"field":"q3","type":"quantitative","axis":{"values":[0,5,10]},"title":"Maternal IgG (log₂)"},"y2":{"field":"hi"},"color":{"field":"g","type":"nominal","legend":null}}},
{"data":{"name":"b1m"},"mark":{"type":"circle","size":13,"opacity":0.55},"encoding":{"x":{"datum":"mRNA1273","type":"nominal","title":null},"xOffset":{"field":"j","type":"quantitative","scale":{"domain":[-10,10],"range":[17.8,25.8]}},"y":{"field":"v","type":"quantitative","axis":{"values":[0,5,10]},"title":"Maternal IgG (log₂)"},"color":{"datum":"mRNA1273","type":"nominal","legend":null}}},
{"data":{"name":"b1b"},"mark":{"type":"circle","size":13,"opacity":0.55},"encoding":{"x":{"datum":"BNT162b2","type":"nominal","title":null},"xOffset":{"field":"j","type":"quantitative"},"y":{"field":"v","type":"quantitative","axis":{"values":[0,5,10]},"title":"Maternal IgG (log₂)"},"color":{"datum":"BNT162b2","type":"nominal","legend":null}}},
{"data":{"name":"stats"},"transform":[{"filter":"datum.p=='b1'"}],"mark":{"type":"tick","thickness":1.8,"size":33},"encoding":{"x":{"field":"g","type":"nominal","title":null},"y":{"field":"md","type":"quantitative","axis":{"values":[0,5,10]},"title":"Maternal IgG (log₂)"},"color":{"field":"g","type":"nominal","legend":null}}},
{"data":{"name":"stats"},"transform":[{"filter":"datum.p=='b1' && datum.g=='mRNA1273'"}],"mark":{"type":"rule","strokeDash":[4,3],"color":"#000","strokeWidth":1},"encoding":{"y":{"datum":1.72,"type":"quantitative","axis":{"values":[0,5,10]},"title":"Maternal IgG (log₂)"}}},
{"data":{"name":"stats"},"transform":[{"filter":"datum.p=='b1' && datum.g=='mRNA1273'"}],"mark":{"type":"rule","color":"#000","strokeWidth":1},"encoding":{"y":{"datum":-0.535,"type":"quantitative","axis":{"values":[0,5,10]},"title":"Maternal IgG (log₂)"}}},
{"data":{"name":"stats"},"transform":[{"filter":"datum.p=='b1' && datum.g=='mRNA1273'"}],"mark":{"type":"rule","color":"#333","strokeWidth":1},"encoding":{"x":{"datum":"mRNA1273","type":"nominal","title":null},"x2":{"datum":"BNT162b2"},"y":{"datum":10.53,"type":"quantitative","axis":{"values":[0,5,10]},"title":"Maternal IgG (log₂)"}}},
{"data":{"name":"stats"},"transform":[{"filter":"datum.p=='b1' && datum.g=='mRNA1273'"}],"mark":{"type":"text","fontSize":10.5,"color":"#1a1a1a","baseline":"alphabetic"},"encoding":{"y":{"datum":10.7,"type":"quantitative","axis":{"values":[0,5,10]},"title":"Maternal IgG (log₂)"},"text":{"field":"pv"}}},
{"data":{"name":"stats"},"transform":[{"filter":"datum.p=='b1'"}],"mark":{"type":"text","fontSize":9,"color":"#000","baseline":"middle"},"encoding":{"x":{"field":"g","type":"nominal","title":null},"y":{"datum":-1.84,"type":"quantitative","axis":{"values":[0,5,10]},"title":"Maternal IgG (log₂)"},"text":{"field":"n"}}},
{"data":{"name":"stats"},"transform":[{"filter":"datum.p=='b1'"}],"mark":{"type":"text","fontSize":9,"color":"#000","baseline":"middle"},"encoding":{"x":{"field":"g","type":"nominal","title":null},"y":{"datum":-2.42,"type":"quantitative","axis":{"values":[0,5,10]},"title":"Maternal IgG (log₂)"},"text":{"field":"m"}}}
]},
{"data":{"name":"stats"},"transform":[{"filter":"datum.p=='b1' && datum.g=='mRNA1273'"}],"mark":{"type":"rule","color":"#000","strokeWidth":1},"encoding":{"x":{"datum":0.005,"type":"quantitative","scale":{"domain":[0,1],"nice":false,"zero":false},"axis":null},"y":{"datum":-0.57,"type":"quantitative","axis":{"values":[0,5,10]},"title":"Maternal IgG (log₂)"},"y2":{"datum":12.55}}}
]}]},
{"spacing":0,"vconcat":[
{"width":96,"height":15,"view":{"stroke":"#333","strokeWidth":1},"data":{"values":[{"f":"FullVx/Inf"}]},"mark":{"type":"text","fontSize":9,"color":"#1a1a1a"},"encoding":{"text":{"field":"f","type":"nominal"}}},
{"width":96,"height":206,"layer":[
{"data":{"name":"stats"},"transform":[{"filter":"datum.p=='b2'"}],"mark":{"type":"bar","filled":false,"strokeWidth":1,"strokeOpacity":0.75,"size":33},"encoding":{"x":{"field":"g","type":"nominal","scale":{"domain":["mRNA1273","BNT162b2"],"paddingInner":0,"paddingOuter":0.1},"title":null},"y":{"field":"q1","type":"quantitative","scale":{"domain":[-0.57,12.55],"nice":false,"zero":false},"axis":null},"y2":{"field":"q3"},"color":{"field":"g","type":"nominal","legend":null}}},
{"data":{"name":"stats"},"transform":[{"filter":"datum.p=='b2'"}],"mark":{"type":"rule","strokeWidth":1.1,"strokeOpacity":0.8},"encoding":{"x":{"field":"g","type":"nominal","title":null},"y":{"field":"lo","type":"quantitative","axis":null},"y2":{"field":"q1"},"color":{"field":"g","type":"nominal","legend":null}}},
{"data":{"name":"stats"},"transform":[{"filter":"datum.p=='b2'"}],"mark":{"type":"rule","strokeWidth":1.1,"strokeOpacity":0.8},"encoding":{"x":{"field":"g","type":"nominal","title":null},"y":{"field":"q3","type":"quantitative","axis":null},"y2":{"field":"hi"},"color":{"field":"g","type":"nominal","legend":null}}},
{"data":{"name":"b2m"},"mark":{"type":"circle","size":13,"opacity":0.55},"encoding":{"x":{"datum":"mRNA1273","type":"nominal","title":null},"xOffset":{"field":"j","type":"quantitative","scale":{"domain":[-10,10],"range":[17.8,25.8]}},"y":{"field":"v","type":"quantitative","axis":null},"color":{"datum":"mRNA1273","type":"nominal","legend":null}}},
{"data":{"name":"b2b"},"mark":{"type":"circle","size":13,"opacity":0.55},"encoding":{"x":{"datum":"BNT162b2","type":"nominal","title":null},"xOffset":{"field":"j","type":"quantitative"},"y":{"field":"v","type":"quantitative","axis":null},"color":{"datum":"BNT162b2","type":"nominal","legend":null}}},
{"data":{"name":"stats"},"transform":[{"filter":"datum.p=='b2'"}],"mark":{"type":"tick","thickness":1.8,"size":33},"encoding":{"x":{"field":"g","type":"nominal","title":null},"y":{"field":"md","type":"quantitative","axis":null},"color":{"field":"g","type":"nominal","legend":null}}},
{"data":{"name":"stats"},"transform":[{"filter":"datum.p=='b2' && datum.g=='mRNA1273'"}],"mark":{"type":"rule","strokeDash":[4,3],"color":"#000","strokeWidth":1},"encoding":{"y":{"datum":1.72,"type":"quantitative","axis":null}}},
{"data":{"name":"stats"},"transform":[{"filter":"datum.p=='b2' && datum.g=='mRNA1273'"}],"mark":{"type":"rule","color":"#000","strokeWidth":1},"encoding":{"y":{"datum":-0.535,"type":"quantitative","axis":null}}},
{"data":{"name":"stats"},"transform":[{"filter":"datum.p=='b2' && datum.g=='mRNA1273'"}],"mark":{"type":"rule","color":"#333","strokeWidth":1},"encoding":{"x":{"datum":"mRNA1273","type":"nominal","title":null},"x2":{"datum":"BNT162b2"},"y":{"datum":10.53,"type":"quantitative","axis":null}}},
{"data":{"name":"stats"},"transform":[{"filter":"datum.p=='b2' && datum.g=='mRNA1273'"}],"mark":{"type":"text","fontSize":10.5,"color":"#1a1a1a","baseline":"alphabetic"},"encoding":{"y":{"datum":10.7,"type":"quantitative","axis":null},"text":{"field":"pv"}}},
{"data":{"name":"stats"},"transform":[{"filter":"datum.p=='b2'"}],"mark":{"type":"text","fontSize":9,"color":"#000","baseline":"middle"},"encoding":{"x":{"field":"g","type":"nominal","title":null},"y":{"datum":-1.84,"type":"quantitative","axis":null},"text":{"field":"n"}}},
{"data":{"name":"stats"},"transform":[{"filter":"datum.p=='b2'"}],"mark":{"type":"text","fontSize":9,"color":"#000","baseline":"middle"},"encoding":{"x":{"field":"g","type":"nominal","title":null},"y":{"datum":-2.42,"type":"quantitative","axis":null},"text":{"field":"m"}}}
]}]},
{"spacing":0,"vconcat":[
{"width":96,"height":15,"view":{"stroke":"#333","strokeWidth":1},"data":{"values":[{"f":"BoostVx/Inf"}]},"mark":{"type":"text","fontSize":9,"color":"#1a1a1a"},"encoding":{"text":{"field":"f","type":"nominal"}}},
{"width":96,"height":206,"layer":[
{"data":{"name":"stats"},"transform":[{"filter":"datum.p=='b3'"}],"mark":{"type":"bar","filled":false,"strokeWidth":1,"strokeOpacity":0.75,"size":33},"encoding":{"x":{"field":"g","type":"nominal","scale":{"domain":["mRNA1273","BNT162b2"],"paddingInner":0,"paddingOuter":0.1},"title":null},"y":{"field":"q1","type":"quantitative","scale":{"domain":[-0.57,12.55],"nice":false,"zero":false},"axis":null},"y2":{"field":"q3"},"color":{"field":"g","type":"nominal","legend":null}}},
{"data":{"name":"stats"},"transform":[{"filter":"datum.p=='b3'"}],"mark":{"type":"rule","strokeWidth":1.1,"strokeOpacity":0.8},"encoding":{"x":{"field":"g","type":"nominal","title":null},"y":{"field":"lo","type":"quantitative","axis":null},"y2":{"field":"q1"},"color":{"field":"g","type":"nominal","legend":null}}},
{"data":{"name":"stats"},"transform":[{"filter":"datum.p=='b3'"}],"mark":{"type":"rule","strokeWidth":1.1,"strokeOpacity":0.8},"encoding":{"x":{"field":"g","type":"nominal","title":null},"y":{"field":"q3","type":"quantitative","axis":null},"y2":{"field":"hi"},"color":{"field":"g","type":"nominal","legend":null}}},
{"data":{"name":"b3m"},"mark":{"type":"circle","size":13,"opacity":0.55},"encoding":{"x":{"datum":"mRNA1273","type":"nominal","title":null},"xOffset":{"field":"j","type":"quantitative","scale":{"domain":[-10,10],"range":[17.8,25.8]}},"y":{"field":"v","type":"quantitative","axis":null},"color":{"datum":"mRNA1273","type":"nominal","legend":null}}},
{"data":{"name":"b3b"},"mark":{"type":"circle","size":13,"opacity":0.55},"encoding":{"x":{"datum":"BNT162b2","type":"nominal","title":null},"xOffset":{"field":"j","type":"quantitative"},"y":{"field":"v","type":"quantitative","axis":null},"color":{"datum":"BNT162b2","type":"nominal","legend":null}}},
{"data":{"name":"stats"},"transform":[{"filter":"datum.p=='b3'"}],"mark":{"type":"tick","thickness":1.8,"size":33},"encoding":{"x":{"field":"g","type":"nominal","title":null},"y":{"field":"md","type":"quantitative","axis":null},"color":{"field":"g","type":"nominal","legend":null}}},
{"data":{"name":"stats"},"transform":[{"filter":"datum.p=='b3' && datum.g=='mRNA1273'"}],"mark":{"type":"rule","strokeDash":[4,3],"color":"#000","strokeWidth":1},"encoding":{"y":{"datum":1.72,"type":"quantitative","axis":null}}},
{"data":{"name":"stats"},"transform":[{"filter":"datum.p=='b3' && datum.g=='mRNA1273'"}],"mark":{"type":"rule","color":"#000","strokeWidth":1},"encoding":{"y":{"datum":-0.535,"type":"quantitative","axis":null}}},
{"data":{"name":"stats"},"transform":[{"filter":"datum.p=='b3' && datum.g=='mRNA1273'"}],"mark":{"type":"rule","color":"#333","strokeWidth":1},"encoding":{"x":{"datum":"mRNA1273","type":"nominal","title":null},"x2":{"datum":"BNT162b2"},"y":{"datum":10.53,"type":"quantitative","axis":null}}},
{"data":{"name":"stats"},"transform":[{"filter":"datum.p=='b3' && datum.g=='mRNA1273'"}],"mark":{"type":"text","fontSize":10.5,"color":"#1a1a1a","baseline":"alphabetic"},"encoding":{"y":{"datum":10.7,"type":"quantitative","axis":null},"text":{"field":"pv"}}},
{"data":{"name":"stats"},"transform":[{"filter":"datum.p=='b3'"}],"mark":{"type":"text","fontSize":9,"color":"#000","baseline":"middle"},"encoding":{"x":{"field":"g","type":"nominal","title":null},"y":{"datum":-1.84,"type":"quantitative","axis":null},"text":{"field":"n"}}},
{"data":{"name":"stats"},"transform":[{"filter":"datum.p=='b3'"}],"mark":{"type":"text","fontSize":9,"color":"#000","baseline":"middle"},"encoding":{"x":{"field":"g","type":"nominal","title":null},"y":{"datum":-2.42,"type":"quantitative","axis":null},"text":{"field":"m"}}}
]}]}
]}
]
}
